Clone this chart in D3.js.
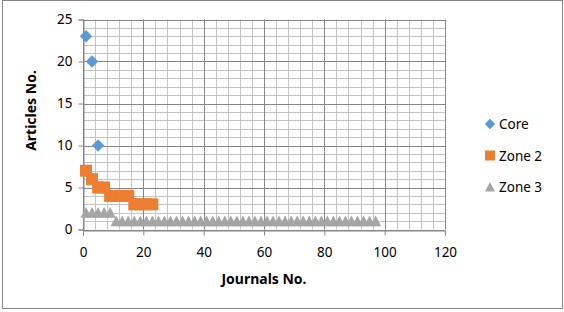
<!DOCTYPE html>
<html lang="en">
<head>
  <meta charset="UTF-8">
  <title>Journals / Articles</title>
  <script src="https://d3js.org/d3.v7.min.js"></script>
  <style>
    body { margin: 0; padding: 0; background: #fff; }
    svg { display: block; font-family: "Noto Sans", "Open Sans", sans-serif; }
    .tick text { font-size: 13.5px; fill: #000; }
    .axis-title { font-size: 14px; font-weight: bold; fill: #000; }
    .legend text { font-size: 13.5px; fill: #000; }
  </style>
</head>
<body>
  <svg width="564" height="312"></svg>
  <script>
    // === Dados ===
    const coreX = [1, 3, 5];
    const coreY = [23, 20, 10];

    const zone2X = [1, 3, 5, 7, 9, 11, 13, 15, 17, 19, 21, 23];
    const zone2Y = [7, 6, 5, 5, 4, 4, 4, 4, 3, 3, 3, 3];

    const zone3X = [1, 3, 5, 7, 9,
      11, 13, 15, 17, 19, 21, 23, 25, 27, 29, 31, 33, 35, 37, 39, 41, 43, 45, 47, 49,
      51, 53, 55, 57, 59, 61, 63, 65, 67, 69, 71, 73, 75, 77, 79, 81, 83, 85, 87, 89,
      91, 93, 95, 97];
    const zone3Y = [2, 2, 2, 2, 2,
      1, 1, 1, 1, 1, 1, 1, 1, 1, 1, 1, 1, 1, 1, 1, 1, 1, 1, 1, 1,
      1, 1, 1, 1, 1, 1, 1, 1, 1, 1, 1, 1, 1, 1, 1, 1, 1, 1, 1, 1,
      1, 1, 1, 1];

    const xTicks = [0, 20, 40, 60, 80, 100, 120];
    const yTicks = [0, 5, 10, 15, 20, 25];
    const seriesNames = ["Core", "Zone 2", "Zone 3"];
    const colors = ["#5B9BD5", "#ED7D31", "#A5A5A5"];

    // formas dos marcadores (meia largura r)
    const shapes = {
      diamond: r => `M0,${-r}L${r},0L0,${r}L${-r},0Z`,
      square: r => `M${-r},${-r}H${r}V${r}H${-r}Z`,
      triangle: r => `M0,${-r}L${r},${r * 0.9}H${-r}Z`
    };

    const series = [
      { name: seriesNames[0], pts: coreX.map((x, i) => [x, coreY[i]]), shape: "diamond", r: 6.2, lr: 5.2 },
      { name: seriesNames[1], pts: zone2X.map((x, i) => [x, zone2Y[i]]), shape: "square", r: 6, lr: 5 },
      { name: seriesNames[2], pts: zone3X.map((x, i) => [x, zone3Y[i]]), shape: "triangle", r: 5.6, lr: 5 }
    ];

    // === Layout ===
    const svg = d3.select("svg");
    svg.append("rect").attr("x", 2.5).attr("y", 0.5).attr("width", 560).attr("height", 308)
      .attr("fill", "#fff").attr("stroke", "#868686").attr("stroke-width", 1);

    const pLeft = 83, pRight = 445, pTop = 19.5, pBottom = 229.5;
    const x = d3.scaleLinear().domain([0, 120]).range([pLeft, pRight]);
    const y = d3.scaleLinear().domain([0, 25]).range([pBottom, pTop]);

    // grade menor
    const g = svg.append("g");
    g.selectAll(".vminor").data(d3.range(0, 121, 4)).enter().append("line")
      .attr("x1", d => Math.round(x(d)) + 0.5).attr("x2", d => Math.round(x(d)) + 0.5)
      .attr("y1", pTop).attr("y2", pBottom).attr("stroke", "#c4c4c4");
    g.selectAll(".hminor").data(d3.range(0, 26, 1)).enter().append("line")
      .attr("y1", d => Math.round(y(d)) + 0.5).attr("y2", d => Math.round(y(d)) + 0.5)
      .attr("x1", pLeft).attr("x2", pRight).attr("stroke", "#c4c4c4");
    // grade maior
    g.selectAll(".vmajor").data(xTicks).enter().append("line")
      .attr("x1", d => Math.round(x(d)) + 0.5).attr("x2", d => Math.round(x(d)) + 0.5)
      .attr("y1", pTop).attr("y2", pBottom).attr("stroke", "#868686");
    g.selectAll(".hmajor").data(yTicks).enter().append("line")
      .attr("y1", d => Math.round(y(d)) + 0.5).attr("y2", d => Math.round(y(d)) + 0.5)
      .attr("x1", pLeft).attr("x2", pRight).attr("stroke", "#868686");

    // eixos
    const xAxis = svg.append("g").attr("transform", `translate(0,${Math.round(pBottom) + 0.5})`)
      .call(d3.axisBottom(x).tickValues(xTicks).tickSize(5).tickPadding(12));
    const yAxis = svg.append("g").attr("transform", `translate(${Math.round(pLeft) + 0.5},0)`)
      .call(d3.axisLeft(y).tickValues(yTicks).tickSize(5).tickPadding(6));
    [xAxis, yAxis].forEach(a => {
      a.select(".domain").attr("stroke", "#868686");
      a.selectAll(".tick line").attr("stroke", "#868686");
      a.attr("font-size", null).attr("font-family", null);
    });

    // marcadores
    series.forEach((s, i) => {
      svg.append("g").selectAll("path").data(s.pts).enter().append("path")
        .attr("transform", d => `translate(${x(d[0])},${y(d[1])})`)
        .attr("d", shapes[s.shape](s.r))
        .attr("fill", colors[i]);
    });

    // titulos
    svg.append("text").attr("class", "axis-title")
      .attr("x", (pLeft + pRight) / 2).attr("y", 284).attr("text-anchor", "middle")
      .text("Journals No.");
    svg.append("text").attr("class", "axis-title")
      .attr("transform", `translate(36,${(pTop + pBottom) / 2 - 14}) rotate(-90)`)
      .attr("text-anchor", "middle").text("Articles No.");

    // legenda
    const legend = svg.append("g").attr("class", "legend");
    series.forEach((s, i) => {
      const ly = 124 + i * 31.5;
      legend.append("path").attr("transform", `translate(490,${ly})`)
        .attr("d", shapes[s.shape](s.lr)).attr("fill", colors[i]);
      legend.append("text").attr("x", 499).attr("y", ly + 5).text(s.name);
    });
  </script>
</body>
</html>
